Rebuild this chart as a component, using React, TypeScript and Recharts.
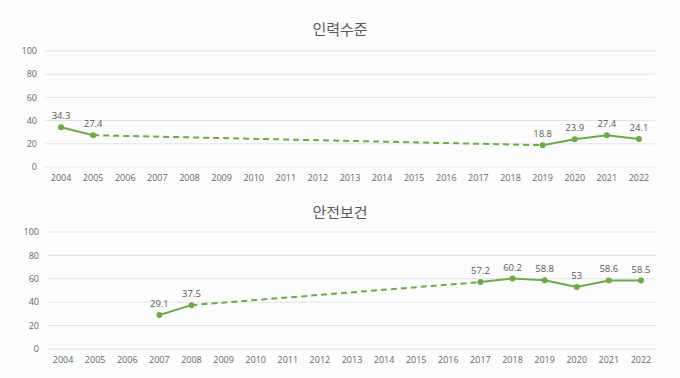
import React from 'react';
import { LineChart, Line, XAxis, YAxis, CartesianGrid, LabelList } from 'recharts';

const years = ['2004','2005','2006','2007','2008','2009','2010','2011','2012','2013','2014','2015','2016','2017','2018','2019','2020','2021','2022'];
const yTicks = [0, 20, 40, 60, 80, 100];

// 인력수준
const staffSolidA: (number | null)[] = [34.3, 27.4, null, null, null, null, null, null, null, null, null, null, null, null, null, null, null, null, null];
const staffDashed: (number | null)[] = [null, 27.4, null, null, null, null, null, null, null, null, null, null, null, null, null, 18.8, null, null, null];
const staffSolidB: (number | null)[] = [null, null, null, null, null, null, null, null, null, null, null, null, null, null, null, 18.8, 23.9, 27.4, 24.1];

// 안전보건
const safetySolidA: (number | null)[] = [null, null, null, 29.1, 37.5, null, null, null, null, null, null, null, null, null, null, null, null, null, null];
const safetyDashed: (number | null)[] = [null, null, null, null, 37.5, null, null, null, null, null, null, null, null, 57.2, null, null, null, null, null];
const safetySolidB: (number | null)[] = [null, null, null, null, null, null, null, null, null, null, null, null, null, 57.2, 60.2, 58.8, 53, 58.6, 58.5];

const GREEN = '#70a84a';
const TEXT = '#666666';
const FONT = '"Noto Sans CJK KR", "Noto Sans", sans-serif';
const NUMFONT = '"Open Sans", "Noto Sans", sans-serif';

function build(a: (number | null)[], d: (number | null)[], b: (number | null)[]) {
  return years.map((y, i) => ({ year: y, a: a[i], d: d[i], b: b[i] }));
}

function Panel({ title, a, d, b, second }: { title: string; a: (number | null)[]; d: (number | null)[]; b: (number | null)[]; second: boolean }) {
  const data = build(a, d, b);
  const labelStyle = { fontSize: 9.5, fill: '#595959', fontFamily: NUMFONT };
  return (
    <div style={{ position: 'relative', width: 680, height: 189 }}>
      <div style={{ position: 'absolute', top: second ? 12 : 18, left: 0, width: 680, textAlign: 'center', fontFamily: FONT, fontSize: 15, color: '#595959', lineHeight: '22px' }}>{title}</div>
      <LineChart width={680} height={189} data={data} margin={{ top: second ? 43 : 51, right: second ? 23 : 25, left: second ? 2 : 0, bottom: 0 }}>
        <CartesianGrid vertical={false} stroke="#e3e3e3" />
        <XAxis dataKey="year" scale="band" axisLine={false} tickLine={false} height={second ? 29 : 22} interval={0} tick={{ fontSize: 9, fill: TEXT, fontFamily: NUMFONT }} />
        <YAxis domain={[0, 100]} ticks={yTicks} width={45} axisLine={false} tickLine={false} tick={{ fontSize: 9, fill: TEXT, fontFamily: NUMFONT }} />
        <Line dataKey="d" stroke={GREEN} strokeWidth={2} strokeDasharray="6 4" dot={false} connectNulls isAnimationActive={false} />
        <Line dataKey="a" stroke={GREEN} strokeWidth={2} dot={{ r: 2, fill: GREEN, stroke: GREEN }} isAnimationActive={false}>
          <LabelList dataKey="a" position="top" offset={8} style={labelStyle} />
        </Line>
        <Line dataKey="b" stroke={GREEN} strokeWidth={2} dot={{ r: 2, fill: GREEN, stroke: GREEN }} isAnimationActive={false}>
          <LabelList dataKey="b" position="top" offset={8} style={labelStyle} />
        </Line>
      </LineChart>
    </div>
  );
}

export default function App() {
  return (
    <div style={{ position: 'fixed', left: 0, top: 0, width: 680, height: 378, background: '#fcfcfc' }}>
      <Panel title="인력수준" a={staffSolidA} d={staffDashed} b={staffSolidB} second={false} />
      <Panel title="안전보건" a={safetySolidA} d={safetyDashed} b={safetySolidB} second={true} />
    </div>
  );
}
